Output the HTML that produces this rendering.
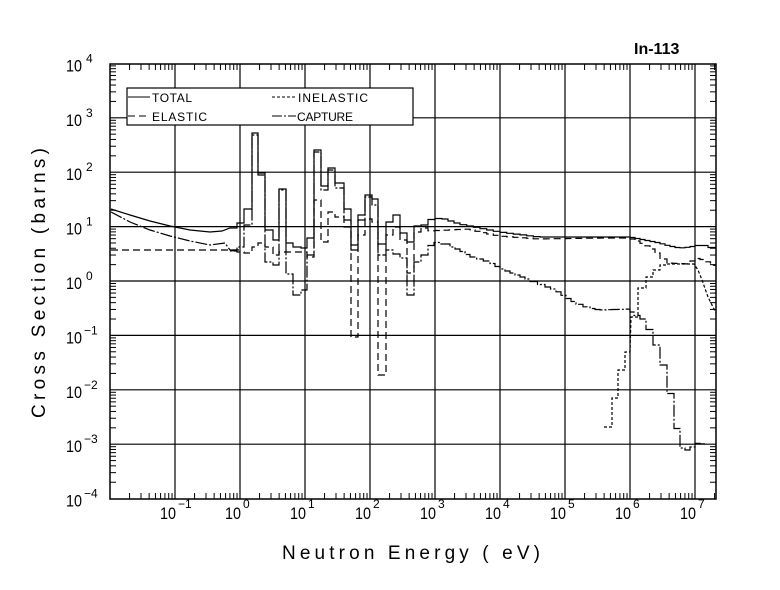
<!DOCTYPE html>
<html><head><meta charset="utf-8"><style>
html,body{margin:0;padding:0;background:#fff;}
svg{display:block;}
text{font-family:"Liberation Sans",sans-serif;fill:#000;}
</style></head><body>
<svg id="s" width="780" height="590" xmlns="http://www.w3.org/2000/svg"></svg>
<script>
const s=document.getElementById('s');
let h='';
const L=110,R=716,T=64,B=499;
const X=e=>240+65*e, Y=p=>281-54.4*p;
for(let d=-1;d<=7;d++){h+=`<line x1="${X(d)}" y1="${T}" x2="${X(d)}" y2="${B}" stroke="#000" stroke-width="1.2"/>`;}
for(let d=-3;d<=3;d++){h+=`<line x1="${L}" y1="${Y(d)}" x2="${R}" y2="${Y(d)}" stroke="#000" stroke-width="1.2"/>`;}
h+=`<rect x="${L}" y="${T}" width="${R-L}" height="${B-T}" fill="none" stroke="#000" stroke-width="1.5"/>`;
for(let d=-2;d<=7;d++)for(let k=2;k<=9;k++){const x=X(d+Math.log10(k));if(x<=L||x>=R)continue;const l=6;
h+=`<line x1="${x}" y1="${B}" x2="${x}" y2="${B-l}" stroke="#000"/><line x1="${x}" y1="${T}" x2="${x}" y2="${T+l}" stroke="#000"/>`;}
for(let d=-4;d<=3;d++)for(let k=2;k<=9;k++){const y=Y(d+Math.log10(k));const l=6;
h+=`<line x1="${L}" y1="${y}" x2="${L+l}" y2="${y}" stroke="#000"/><line x1="${R}" y1="${y}" x2="${R-l}" y2="${y}" stroke="#000"/>`;}
for(let d=-4;d<=4;d++){const y=Y(d);
h+=`<text x="66" y="${y+8}" font-size="17" textLength="16" lengthAdjust="spacingAndGlyphs">10</text><text x="${d<0?84:86}" y="${y-1}" font-size="12">${d<0?'−'+(-d):d}</text>`;}
for(let d=-1;d<=7;d++){const x=X(d);
h+=`<text x="${x-15}" y="${519}" font-size="17" textLength="16" lengthAdjust="spacingAndGlyphs">10</text><text x="${x+3}" y="${508}" font-size="12">${d<0?'−'+(-d):d}</text>`;}
h+=`<text x="282" y="559" font-size="19" textLength="258" lengthAdjust="spacing">Neutron Energy ( eV)</text>`;
h+=`<text transform="translate(45,418) rotate(-90)" font-size="19" textLength="270" lengthAdjust="spacing">Cross Section (barns)</text>`;
h+=`<text x="634" y="54" font-size="16" font-weight="bold">In-113</text>`;
h+=`<rect x="127" y="88" width="286" height="37" fill="#fff" stroke="#000" stroke-width="1.2"/>`;
h+=`<line x1="128" y1="97" x2="150" y2="97" stroke="#000"/><text x="152" y="102" font-size="12" textLength="40">TOTAL</text>`;
h+=`<line x1="128" y1="116" x2="150" y2="116" stroke="#000" stroke-dasharray="7,4"/><text x="152" y="121" font-size="12" textLength="55">ELASTIC</text>`;
h+=`<line x1="272" y1="97" x2="296" y2="97" stroke="#000" stroke-dasharray="3,2"/><text x="298" y="102" font-size="12" textLength="70">INELASTIC</text>`;
h+=`<line x1="272" y1="116" x2="296" y2="116" stroke="#000" stroke-dasharray="10,2,2,2"/><text x="297" y="121" font-size="12" textLength="56">CAPTURE</text>`;
function steps(a){let p='';for(let i=0;i<a.length;i++){const [x0,x1,y]=a[i];p+=(i==0?'M':'L')+x0+','+y+'L'+x1+','+y;}return p;}
const xs=[230,237,244,252,258,265,273,279,286,293,301,307,314,321,328,335,344,351,358,365,372,378,386,393,400,407,414,421,428];
function res(ys){return ys.map((y,i)=>[xs[i],xs[i+1],y]);}
const tot=res([228,223,209,133,173,230,240,189,243,247,248,238,150,186,168,183,209,245,215,195,199,244,222,215,233,242,226,225]);
const el=res([251,252,253,247,243,247,255,252,252,252,252,257,200,242,212,217,227,337,235,219,222,375,235,227,240,273,232,228]);
const cap=res([250,247,225,135,175,262,265,190,274,295,290,255,152,190,170,188,220,250,220,197,205,255,250,254,258,295,262,255]);
// stepped version of a point list with step width ~6.5px
function stp(a){let p='';for(let i=0;i<a.length-1;i++){const [x0,y0]=a[i],[x1,y1]=a[i+1];
 const n=Math.max(1,Math.round((x1-x0)/6.5));for(let k=0;k<n;k++){const xa=x0+(x1-x0)*k/n,xb=x0+(x1-x0)*(k+1)/n,y=y0+(y1-y0)*(k+0.5)/n;p+='L'+xa.toFixed(1)+','+y.toFixed(1)+'L'+xb.toFixed(1)+','+y.toFixed(1);}}return p;}
let ptot='M111,209L130,215L150,221L170,226L190,230L210,232L222,231L230,228'+steps(tot).replace(/^M/,'L')+stp([[428,220],[442,218],[460,224],[480,228],[500,232],[540,237],[630,237],[640,239],[650,241],[660,243],[670,246],[680,248],[690,247],[700,245],[708,246],[716,249]]);
let pel='M111,250L240,250'+steps(el).replace(/^M/,'L')+stp([[428,231],[470,229],[480,232],[500,236],[540,239],[600,238],[630,238],[640,242],[650,247],[660,255],[667,263],[690,264],[695,258],[705,260],[716,267]]);
let pcap='M111,212L130,222L150,230L170,236L190,241L210,245L225,243L230,250'+steps(cap).replace(/^M/,'L')+stp([[428,248],[434,243],[441,242],[450,246],[460,250],[470,256],[490,262],[500,268],[510,272],[520,276],[530,280],[545,286],[556,290],[566,297],[576,303],[590,308],[600,310],[630,309],[634,315],[640,316],[646,322],[653,337],[660,353],[667,377],[674,410],[680,447],[690,451],[695,443],[705,444]]);
let pin='M604,427L612,427L612,398L618,398L618,370L625,370L625,352L630,352L631,317L638,317L638,288L646,288L646,277L653,277L653,270L660,270L660,265L667,265L667,264L694,264L698,270L702,280L708,297L716,313';
h+=`<g fill="none" stroke="#000" stroke-width="1.2">
<path d="${ptot}"/>
<path d="${pel}" stroke-dasharray="7,4"/>
<path d="${pcap}" stroke-dasharray="12,2,2,2"/>
<path d="${pin}" stroke-dasharray="3,2"/></g>`;
s.innerHTML=h;
</script>
</body></html>
